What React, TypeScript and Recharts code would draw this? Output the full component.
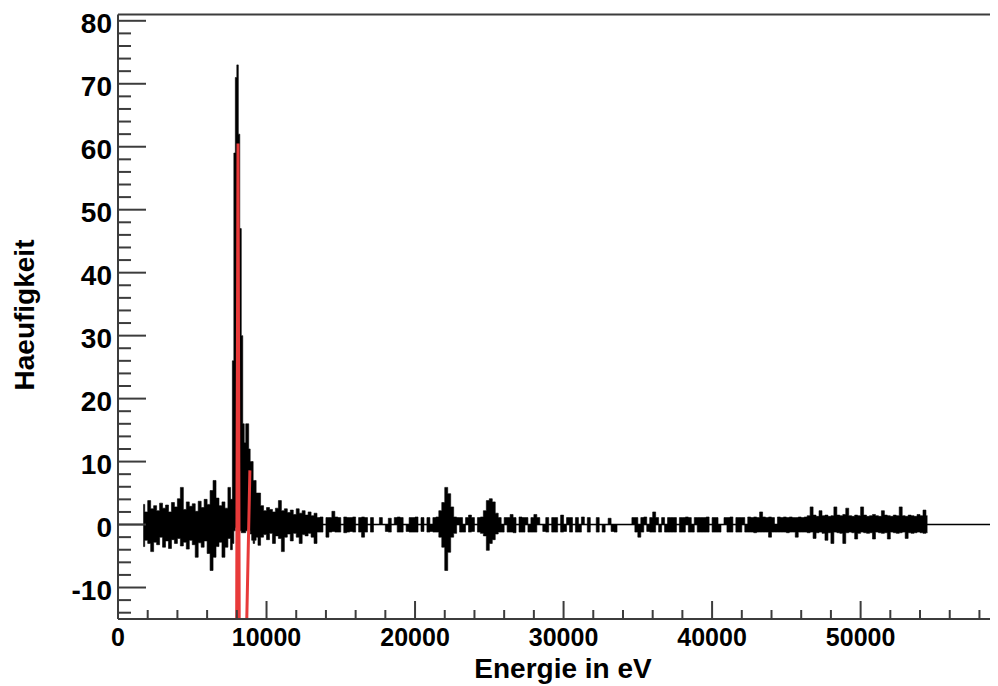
import { ComposedChart, Area, Line, XAxis, YAxis, ReferenceLine, Label } from 'recharts'

const AXIS = '#3c3c3c'
const FONT = "'Liberation Sans', Arial, Helvetica, sans-serif"

// Untergrund vor dem Peak: 200 eV Bins ab 1700 eV, [unten, oben] inkl. Fehlerbalken
const noiseHi = [3.2, 2.0, 3.8, 2.5, 3.0, 2.2, 3.4, 2.6, 3.1, 2.0, 3.5, 2.8, 4.1, 5.9, 2.4,
    3.6, 2.9, 3.3, 2.1, 3.7, 2.7, 4.0, 3.2, 5.4, 7.0, 4.2, 3.0, 3.6, 2.6, 5.9]
const noiseLo = [-3.5, -2.5, -3.0, -4.3, -2.8, -3.2, -2.0, -3.6, -2.6, -3.8, -2.4, -3.0, -2.2, -3.4, -2.8,
    -3.9, -2.5, -3.2, -5.2, -2.9, -3.6, -2.6, -4.6, -7.3, -5.2, -3.5, -2.8, -5.2, -3.6, -2.2]

// Peakbereich: 100 eV Bins ab 7650 eV
const peakHi = [4, 26, 59, 71, 73, 62, 47, 30, 16, 13, 16, 16, 12, 10, 10, 7, 7, 5]
const peakLo = [-4, -3, -1, -0.5, -0.5, -0.5, -1, -1.3, -1.3, -1.3, -1, -0.8, -1, -1.5, -2.5, -3, -2.5, -2]

// Rest des Spektrums: 200 eV Bins ab 9500 eV, in Abschnitten
const tailHi = [5, 3, 2.2, 2.7, 2.4, 2.0, 2.6, 3.8, 2.2, 2.5, 1.9, 2.3, 1.6, 2.5, 1.8, 2.2, 1.5, 2.0, 1.4, 1.8]
const tailLo = [-3.3, -2.0, -1.6, -2.4, -1.4, -3.0, -1.8, -2.2, -4.3, -2.0, -1.5, -2.6, -1.4, -2.0, -3.0, -1.6, -1.8, -1.4, -2.0, -3.0]
const quiet1Hi = [1.1, 1.2, 0, 1.1, 1.1, 2.1, 1.2, 1.1, 0, 1.2, 1.1, 1.1, 1.2, 0, 1.1, 1.2, 1.1, 0, 1.1, 0]
const quiet1Lo = [-1.2, -1.2, 0, -2.0, -1.2, -1.1, -1.2, -1.2, 0, -1.3, -1.2, -1.1, -1.2, 0, -1.2, -2.0, -1.2, 0, -1.2, 0]
const quiet2Hi = [0, 1.1, 0, 0, 1.0, 0, 1.1, 1.2, 1.1, 0, 0, 1.1, 1.1, 1.2, 0, 1.1, 0, 1.1, 0, 1.1]
const quiet2Lo = [0, 0, 0, -1.1, -1.2, 0, 0, -1.2, -1.2, 0, -1.1, -1.2, -1.2, -1.2, 0, -1.1, 0, -1.2, -1.1, -1.2]
const burst1Hi = [1.2, 2.2, 3.5, 5.9, 4.9, 2.8, 1.2, 1.1]
const burst1Lo = [-1.2, -2.0, -3.6, -7.3, -4.4, -2.0, -1.4, 0]
const quiet3Hi = [1.1, 0, 1.1, 1.5, 1.1, 0, 1.1, 1.2]
const quiet3Lo = [-1.2, -1.2, 0, -1.2, -1.1, 0, -1.2, -1.4]
const burst2Hi = [2.2, 3.8, 4.1, 3.6, 1.8]
const burst2Lo = [-1.8, -4.1, -3.0, -2.4, -1.5]
const quiet4Hi = [1.1, 0, 1.1, 1.1, 1.6, 1.1, 0, 1.2, 1.1, 1.1, 0, 1.1, 1.6, 1.1, 0, 0,
    1.1, 0, 1.1, 1.1, 0, 1.5, 0, 1.1, 1.1, 0, 1.1, 0, 1.2, 0, 1.1, 0]
const quiet4Lo = [-1.2, -1.2, 0, -1.2, -1.2, -1.3, 0, -1.2, -1.2, 0, -1.2, -1.2, -1.2, 0, 0, -1.1,
    -1.2, 0, -1.2, -1.2, 0, -1.2, -1.1, 0, -1.2, 0, -1.2, -1.2, 0, 0, -1.2, 0]
const quiet5Hi = [0, 1.1, 0, 0, 0, 1.0, 0, 0, 0, 0, 0, 0, 0, 1.1, 1.1, 0, 1.1, 1.2, 0, 1.1, 2.0, 1.1, 0, 1.1, 0, 1.1]
const quiet5Lo = [0, -1.2, 0, -1.2, 0, 0, -1.1, -1.2, 0, 0, 0, 0, 0, 0, -1.2, -2.0, -1.2, 0, -1.1, -1.2, -1.2, 0, -1.2, 0, -1.2, -1.2]
const quiet6Hi = [1.1, 1.1, 0, 1.1, 1.1, 1.2, 1.1, 0, 1.1, 1.1, 1.1, 1.1, 1.2, 0, 1.1, 1.1, 0, 0, 1.1, 1.1, 1.2, 0, 1.1, 1.1, 1.1, 0]
const quiet6Lo = [-1.2, -1.2, 0, -1.2, -1.2, 0, -1.2, -1.2, 0, -1.2, -1.2, -1.2, -1.2, 0, -1.2, -1.2, -1.2, 0, 0, -1.2, -1.2, 0, -1.2, -1.2, 0, -1.2]
const quiet7Hi = [1.2, 1.1, 1.2, 1.1, 2.0, 1.2, 1.1, 1.2, 1.1, 0, 1.2, 1.1, 1.2, 1.1, 1.2, 1.1, 1.1, 1.2, 1.1, 1.2]
const quiet7Lo = [-1.2, -1.2, -1.3, -1.2, -1.2, -1.2, -1.2, -2.0, -1.2, -1.2, -1.2, -1.2, -1.2, -1.3, -1.2, -1.2, -2.0, -1.2, -1.2, -1.2]
const denseHi = [1.4, 2.8, 1.5, 1.3, 2.2, 1.4, 1.5, 1.3, 1.4, 2.8, 1.5, 1.4, 1.6, 2.6, 1.4, 1.3, 1.5, 1.4, 2.8, 1.5,
    1.3, 1.4, 1.6, 1.4, 1.3, 2.2, 1.5, 1.4, 1.3, 1.5, 1.4, 2.8, 1.4, 1.3, 1.5, 1.4, 1.3, 1.6, 1.4, 2.3, 1.4]
const denseLo = [-1.3, -1.2, -2.2, -1.3, -1.2, -1.4, -2.5, -1.3, -3.0, -1.2, -1.3, -1.4, -3.0, -1.3, -1.2, -1.3, -2.3, -1.4, -1.2, -1.3,
    -1.4, -1.3, -2.3, -1.2, -1.3, -1.4, -1.3, -2.3, -1.2, -1.3, -1.4, -1.3, -1.2, -2.2, -1.3, -1.4, -1.3, -1.2, -1.3, -1.4, -1.3]

// Fitfunktion (rot)
const fitX = [7984, 8080, 8166, 8626, 8880]
const fitY = [-20, 60.5, -20, -20, 8.6]

const xMajor = [0, 10000, 20000, 30000, 40000, 50000]
const yMajor = [-10, 0, 10, 20, 30, 40, 50, 60, 70, 80]
const X_MAX = 59250

type Bin = { x: number; range: [number, number] }

const makeBins = (start: number, step: number, lo: number[], hi: number[]): Bin[] =>
    hi.map((h, i) => ({ x: start + i * step, range: [lo[i], h] as [number, number] }))

const restHi = [...tailHi, ...quiet1Hi, ...quiet2Hi, ...burst1Hi, ...quiet3Hi, ...burst2Hi,
    ...quiet4Hi, ...quiet5Hi, ...quiet6Hi, ...quiet7Hi, ...denseHi]
const restLo = [...tailLo, ...quiet1Lo, ...quiet2Lo, ...burst1Lo, ...quiet3Lo, ...burst2Lo,
    ...quiet4Lo, ...quiet5Lo, ...quiet6Lo, ...quiet7Lo, ...denseLo]

const histData: Bin[] = [
    ...makeBins(1700, 200, noiseLo, noiseHi),
    ...makeBins(7650, 100, peakLo, peakHi),
    ...makeBins(9500, 200, restLo, restHi)
]

const fitData = fitX.map((x, i) => ({ x, y: fitY[i] }))

// Haupt- und Nebenstriche wie bei ROOT
const xTicks: number[] = []
for (let v = 0; v < X_MAX; v += 2000) xTicks.push(v)
const yTicks: number[] = []
for (let v = -14; v <= 80; v += 2) yTicks.push(v)

function XTick({ x, y, payload }: any) {
    const major = xMajor.includes(payload.value)
    return (
        <g>
            <line x1={x} y1={y} x2={x} y2={y - (major ? 18 : 9)} stroke={AXIS} strokeWidth={2} />
            {major && (
                <text x={x} y={y + 27} textAnchor="middle" fontSize={25} fontWeight="bold" fontFamily={FONT} fill="#000">
                    {payload.value}
                </text>
            )}
        </g>
    )
}

function YTick({ x, y, payload }: any) {
    const major = yMajor.includes(payload.value)
    return (
        <g>
            <line x1={x} y1={y} x2={x + (major ? 28 : 13)} y2={y} stroke={AXIS} strokeWidth={2} />
            {major && (
                <text x={x - 6} y={y + 12} textAnchor="end" fontSize={28} fontWeight="bold" fontFamily={FONT} fill="#000">
                    {payload.value}
                </text>
            )}
        </g>
    )
}

export default function App() {
    return (
        <div style={{ width: 990, height: 678, background: '#fff', fontFamily: FONT }}>
            <ComposedChart width={990} height={678} data={histData} margin={{ top: 6.5, right: 0, bottom: 0, left: 0 }}>
                <XAxis
                    dataKey="x"
                    type="number"
                    domain={[0, X_MAX]}
                    ticks={xTicks}
                    interval={0}
                    tick={<XTick />}
                    tickLine={false}
                    tickSize={0}
                    tickMargin={0}
                    height={67}
                    axisLine={{ stroke: AXIS, strokeWidth: 2 }}
                >
                    <Label
                        content={() => (
                            <text x={555} y={670} textAnchor="middle" fontSize={28} fontWeight="bold" fontFamily={FONT} fill="#000">
                                Energie in eV
                            </text>
                        )}
                    />
                </XAxis>
                <YAxis
                    type="number"
                    domain={[-15, 81]}
                    allowDataOverflow
                    ticks={yTicks}
                    interval={0}
                    tick={<YTick />}
                    tickLine={false}
                    tickSize={0}
                    tickMargin={0}
                    width={110}
                    axisLine={{ stroke: AXIS, strokeWidth: 2 }}
                >
                    <Label
                        content={() => (
                            <text x={26} y={307} transform="rotate(-90 26 307)" textAnchor="middle" fontSize={28} fontWeight="bold" fontFamily={FONT} fill="#000">
                                Haeufigkeit
                            </text>
                        )}
                    />
                </YAxis>
                <ReferenceLine y={81} stroke={AXIS} strokeWidth={2} />
                <ReferenceLine y={0} stroke="#000" strokeWidth={1.5} />
                <Area
                    type="step"
                    dataKey="range"
                    stroke="#000"
                    strokeWidth={0.6}
                    fill="#000"
                    fillOpacity={1}
                    dot={false}
                    activeDot={false}
                    isAnimationActive={false}
                />
                <Line
                    data={fitData}
                    dataKey="y"
                    type="linear"
                    stroke="#e83a3a"
                    strokeWidth={3}
                    dot={false}
                    activeDot={false}
                    isAnimationActive={false}
                />
            </ComposedChart>
        </div>
    )
}
